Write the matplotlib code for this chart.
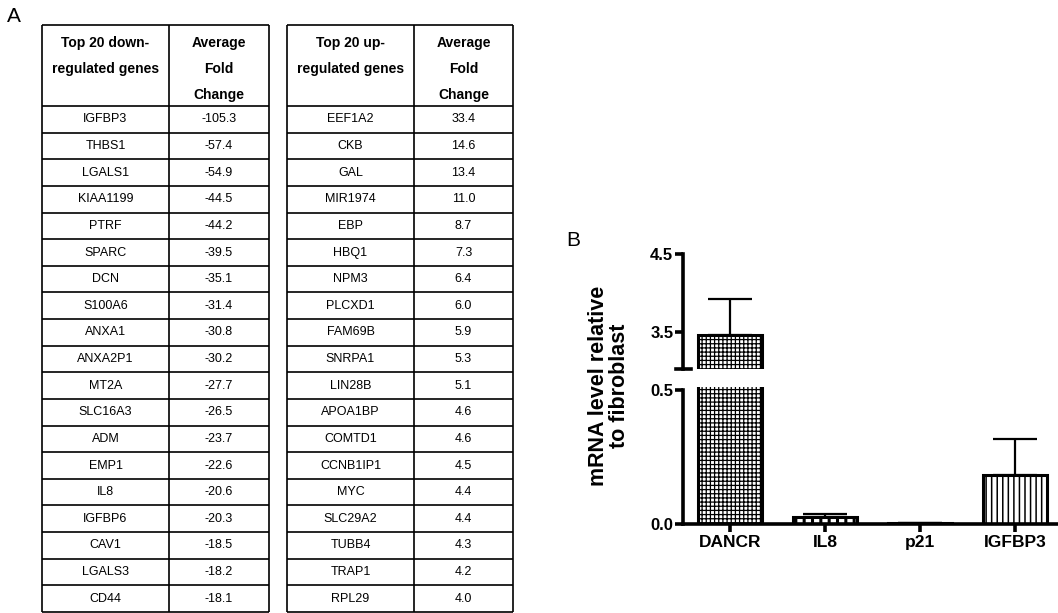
import matplotlib
matplotlib.use('Agg')
import matplotlib.pyplot as plt
import numpy as np

plt.rcParams['font.family'] = ['Liberation Sans', 'DejaVu Sans']

# panel A data
down_genes = ['IGFBP3', 'THBS1', 'LGALS1', 'KIAA1199', 'PTRF', 'SPARC', 'DCN',
              'S100A6', 'ANXA1', 'ANXA2P1', 'MT2A', 'SLC16A3', 'ADM', 'EMP1',
              'IL8', 'IGFBP6', 'CAV1', 'LGALS3', 'CD44']
down_fold = [-105.3, -57.4, -54.9, -44.5, -44.2, -39.5, -35.1, -31.4, -30.8,
             -30.2, -27.7, -26.5, -23.7, -22.6, -20.6, -20.3, -18.5, -18.2, -18.1]
up_genes = ['EEF1A2', 'CKB', 'GAL', 'MIR1974', 'EBP', 'HBQ1', 'NPM3', 'PLCXD1',
            'FAM69B', 'SNRPA1', 'LIN28B', 'APOA1BP', 'COMTD1', 'CCNB1IP1', 'MYC',
            'SLC29A2', 'TUBB4', 'TRAP1', 'RPL29']
up_fold = [33.4, 14.6, 13.4, 11.0, 8.7, 7.3, 6.4, 6.0, 5.9, 5.3, 5.1, 4.6, 4.6,
           4.5, 4.4, 4.4, 4.3, 4.2, 4.0]
header_down = [['Top 20 down-', 'regulated genes'], ['Average', 'Fold', 'Change']]
header_up = [['Top 20 up-', 'regulated genes'], ['Average', 'Fold', 'Change']]

# panel B data
genes_b = ['DANCR', 'IL8', 'p21', 'IGFBP3']
mrna = [3.47, 0.026, 0.002, 0.183]
mrna_err = [0.45, 0.011, 0.001, 0.134]
hatches = ['++++', '||', '', '|||']
hatch_lws = [0.9, 2.2, 1.0, 1.1]

W, H = 1058, 613
fig = plt.figure(figsize=(W / 100, H / 100), dpi=100)

# ---------- table ----------
tab_left, tab_top, tab_right, tab_bot = 42, 25, 513, 612
ax = fig.add_axes([tab_left / W, 1 - tab_bot / H, (tab_right - tab_left) / W,
                   (tab_bot - tab_top) / H])
head_h, row_h = 81, 26.6
n = len(down_genes)
ax.set_xlim(0, tab_right - tab_left)
ax.set_ylim(head_h + n * row_h, 0)
ax.axis('off')

lw = 1.2
blocks = [(0, [127, 100], header_down, down_genes, down_fold),
          (245, [127, 99], header_up, up_genes, up_fold)]
for x0, widths, header, names, vals in blocks:
    edges = np.concatenate([[x0], x0 + np.cumsum(widths)])
    total_h = head_h + n * row_h
    ax.vlines(edges, 0, total_h, color='black', lw=lw, clip_on=False)
    ys = [0] + [head_h + i * row_h for i in range(n + 1)]
    ax.hlines(ys, edges[0], edges[-1], color='black', lw=lw, clip_on=False)
    centers = (edges[:-1] + edges[1:]) / 2
    for c, lines in zip(centers, header):
        for k, line in enumerate(lines):
            ax.text(c, 18 + k * 26, line, ha='center', va='center',
                    fontsize=10, fontweight='bold')
    for i, (g, v) in enumerate(zip(names, vals)):
        yc = head_h + (i + 0.5) * row_h
        ax.text(centers[0], yc, g, ha='center', va='center', fontsize=9)
        ax.text(centers[1], yc, f'{v:.1f}', ha='center', va='center', fontsize=9)

fig.text(14 / W, 1 - 17 / H, 'A', ha='center', va='center', fontsize=15)
fig.text(573 / W, 1 - 240 / H, 'B', ha='center', va='center', fontsize=15)

# ---------- bar chart with broken axis ----------
bx0, bx1 = 683, 1058
ax_up = fig.add_axes([bx0 / W, 1 - 369 / H, (bx1 - bx0) / W, (369 - 254) / H])
ax_lo = fig.add_axes([bx0 / W, 1 - 524 / H, (bx1 - bx0) / W, (524 - 387) / H])

x = np.arange(len(genes_b))
for a in (ax_up, ax_lo):
    bars = a.bar(x, mrna, width=0.67, color='white', edgecolor='black',
                 linewidth=2.2, zorder=2)
    for b, h, hl in zip(bars, hatches, hatch_lws):
        b.set_hatch(h)
        if hasattr(b, 'set_hatch_linewidth'):
            b.set_hatch_linewidth(hl)
    a.errorbar(x, mrna, yerr=[np.zeros(len(x)), mrna_err], fmt='none',
               ecolor='black', elinewidth=1.6, capsize=16, capthick=1.6, zorder=3)
    a.set_xlim(-0.495, 3.45)
    for s in ('top', 'right'):
        a.spines[s].set_visible(False)
    a.spines['left'].set_linewidth(2.6)
    a.tick_params(axis='y', length=6, width=2.6, pad=1, labelsize=12)

ax_up.set_ylim(3.03, 4.5)
ax_up.set_yticks([3.5, 4.5])
ax_up.set_yticklabels(['3.5', '4.5'], fontweight='bold', fontsize=12)
ax_up.spines['bottom'].set_visible(False)
ax_up.set_xticks([])
ax_up.plot([-0.02, 0.02], [0, 0], color='black', lw=2.6, transform=ax_up.transAxes,
           clip_on=False)

ax_lo.set_ylim(0, 0.51)
ax_lo.spines['left'].set_bounds(0, 0.5)
ax_lo.spines['bottom'].set_linewidth(2.6)
ax_lo.set_yticks([0.0, 0.5])
ax_lo.set_yticklabels(['0.0', '0.5'], fontweight='bold', fontsize=12)
ax_lo.set_xticks(x)
ax_lo.set_xticklabels(genes_b, fontweight='bold', fontsize=12.5)
ax_lo.tick_params(axis='x', length=6, width=2.6, pad=2)

fig.text(609 / W, 1 - 386 / H, 'mRNA level relative\nto fibroblast', rotation=90,
         ha='center', va='center', fontsize=15.5, fontweight='bold',
         multialignment='center', linespacing=0.95)

fig.savefig('out.png', dpi=100)
